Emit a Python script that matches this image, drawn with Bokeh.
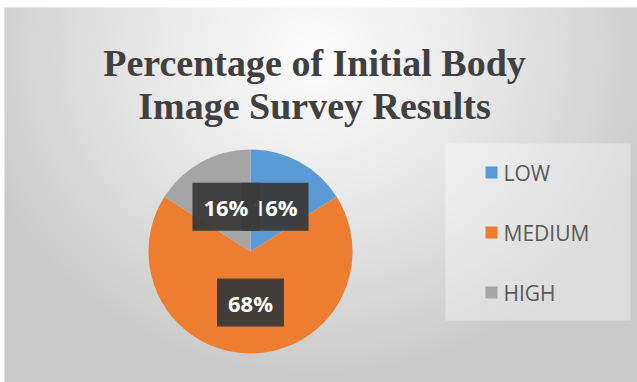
import numpy as np
from bokeh.plotting import figure
from bokeh.models import Range1d, ColumnDataSource
from bokeh.core.properties import value
from bokeh.embed import file_html
from bokeh.resources import INLINE

# ---- data ----
categories = ["LOW", "MEDIUM", "HIGH"]
percents = [16, 68, 16]
colors = ["#5b9bd5", "#ed7d31", "#a5a5a5"]
title_lines = ["Percentage of Initial Body", "Image Survey Results"]

W, H = 637, 382
p = figure(width=W, height=H, x_range=Range1d(0, W), y_range=Range1d(0, H),
           output_backend="svg", toolbar_location=None, min_border=0)
p.axis.visible = False
p.grid.visible = False
p.outline_line_color = None
p.background_fill_color = "white"
p.border_fill_color = "white"

def Y(py):
    return H - py

# ---- background gradient (chart area) ----
x0, y0 = 4, 7
bw, bh = W - x0, H - y0
nx, ny = bw // 2, bh // 2
xs = np.linspace(0, bw, nx)
ys = np.linspace(bh, 0, ny)  # row 0 at bottom
gx, gy = np.meshgrid(xs, ys)
d = np.sqrt(((gx - 311) / 360.0) ** 2 + ((gy - 45) / 330.0) ** 2)
g = 252 - 50 * np.clip(d, 0, 1) ** 1.2
g = g.astype(np.uint32)
img = (255 << 24) | (g << 16) | (g << 8) | g
p.image_rgba(image=[img.astype(np.uint32)], x=x0, y=0, dw=bw, dh=bh)

# ---- title ----
p.text(x=[314, 314], y=[Y(62), Y(105)], text=title_lines,
       text_font=value("Liberation Serif"), text_font_style="bold",
       text_font_size="38px", text_color="#404040",
       text_align="center", text_baseline="alphabetic")

# ---- pie ----
cx, cy, r = 250, Y(251), 102
frac = np.array(percents, dtype=float) / sum(percents)
cum = np.concatenate([[0], np.cumsum(frac)])
start = np.pi / 2 - 2 * np.pi * cum[:-1]
end = np.pi / 2 - 2 * np.pi * cum[1:]
mid = (start + end) / 2
src = ColumnDataSource(dict(cat=categories, start=start, end=end, color=colors,
                            lx=cx + 0.5 * r * np.cos(mid), ly=cy + 0.5 * r * np.sin(mid),
                            lab=[f"{v}%" for v in percents]))
p.wedge(x=cx, y=cy, radius=r, start_angle="end", end_angle="start",
        fill_color="color", line_color=None, source=src)

p.text(x="lx", y="ly", text="lab", source=src,
       text_font=value("Open Sans"), text_font_style="bold", text_font_size="22px",
       text_color="white", text_align="center", text_baseline="middle",
       background_fill_color="#3a3a3a", background_fill_alpha=0.95,
       padding=dict(left=11, right=11, top=9, bottom=9))

# ---- legend ----
p.quad(left=[445], right=[630], top=[Y(143)], bottom=[Y(320)],
       fill_color="#ffffff", fill_alpha=0.35, line_color=None)
idx = np.arange(len(categories))
leg = ColumnDataSource(dict(sx=[491] * len(categories), sy=Y(172 + 60 * idx),
                            tx=[503] * len(categories), cat=categories, color=colors))
p.scatter(x="sx", y="sy", marker="square", size=12, fill_color="color",
          line_color=None, source=leg)
p.text(x="tx", y="sy", text="cat", source=leg, text_font=value("Open Sans"),
       text_font_size="21px", text_color="#595959", text_baseline="middle",
       text_align="left")

open("out.html", "w").write(file_html(p, INLINE))
